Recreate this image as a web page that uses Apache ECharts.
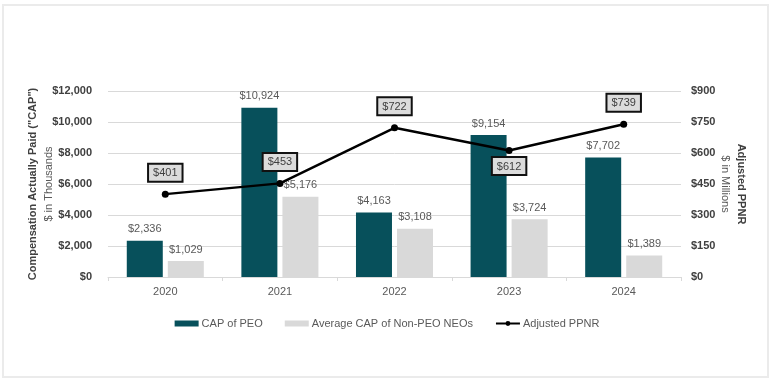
<!DOCTYPE html>
<html>
<head>
<meta charset="utf-8">
<script src="https://cdn.jsdelivr.net/npm/echarts@6/dist/echarts.min.js"></script>
<style>
html,body{margin:0;padding:0;background:#fff;}
#c{width:774px;height:382px;}
</style>
</head>
<body>
<div id="c"></div>
<script>
var categories = ['2020', '2021', '2022', '2023', '2024'];
var capPEO = [2336, 10924, 4163, 9154, 7702];
var capNEO = [1029, 5176, 3108, 3724, 1389];
var ppnr = [401, 453, 722, 612, 739];
var leftTicks = [0, 2000, 4000, 6000, 8000, 10000, 12000];
var rightTicks = [0, 150, 300, 450, 600, 750, 900];
var ppnrLabelPos = ['top', 'top', 'top', 'bottom', 'top'];

var FONT = "'Liberation Sans Narrow', 'Arial Narrow', 'Liberation Sans', Arial, sans-serif";
function money(v){ return '$' + Number(v).toLocaleString('en-US'); }

var chart = echarts.init(document.getElementById('c'), null, {renderer: 'canvas'});
var option = {
  animation: false,
  backgroundColor: '#ffffff',
  textStyle: {fontFamily: FONT},
  graphic: [{
    type: 'rect',
    shape: {x: 3, y: 5, width: 765, height: 372},
    style: {fill: 'none', stroke: '#ebebeb', lineWidth: 2},
    silent: true
  }],
  grid: {left: 108, right: 93, top: 91, bottom: 105, containLabel: false},
  legend: {
    bottom: 48,
    left: 'center',
    itemWidth: 24,
    itemHeight: 6,
    itemGap: 22,
    textStyle: {color: '#595959', fontSize: 11, fontFamily: FONT, padding: [0, 0, 0, -2]},
    data: [
      {name: 'CAP of PEO', icon: 'rect'},
      {name: 'Average CAP of Non-PEO NEOs', icon: 'rect'},
      {name: 'Adjusted PPNR'}
    ]
  },
  xAxis: {
    type: 'category',
    data: categories,
    axisLine: {lineStyle: {color: '#d9d9d9'}},
    axisTick: {show: true, length: 4, lineStyle: {color: '#d9d9d9'}},
    axisLabel: {color: '#595959', fontSize: 11, margin: 9, fontFamily: FONT}
  },
  yAxis: [{
    type: 'value',
    min: leftTicks[0],
    max: leftTicks[leftTicks.length - 1],
    interval: leftTicks[1] - leftTicks[0],
    position: 'left',
    name: '{b|Compensation Actually Paid ("CAP")}\n{n|$ in Thousands}',
    nameLocation: 'middle',
    nameRotate: 90,
    nameGap: 51,
    nameMoveOverlap: false,
    nameTextStyle: {
      rich: {
        b: {fontSize: 11, fontWeight: 'bold', color: '#404040', fontFamily: FONT, lineHeight: 16},
        n: {fontSize: 11, color: '#595959', fontFamily: FONT, lineHeight: 16}
      }
    },
    axisLine: {show: false},
    axisTick: {show: false},
    axisLabel: {color: '#404040', fontSize: 11, fontWeight: 'bold', margin: 16, fontFamily: FONT,
      formatter: function(v){ return money(v); }},
    splitLine: {lineStyle: {color: '#d9d9d9'}}
  }, {
    type: 'value',
    min: rightTicks[0],
    max: rightTicks[rightTicks.length - 1],
    interval: rightTicks[1] - rightTicks[0],
    position: 'right',
    name: '{b|Adjusted PPNR}\n{n|$ in Millions}',
    nameLocation: 'middle',
    nameRotate: -90,
    nameGap: 36,
    nameMoveOverlap: false,
    nameTextStyle: {
      rich: {
        b: {fontSize: 11, fontWeight: 'bold', color: '#404040', fontFamily: FONT, lineHeight: 16},
        n: {fontSize: 11, color: '#595959', fontFamily: FONT, lineHeight: 16}
      }
    },
    axisLine: {show: false},
    axisTick: {show: false},
    axisLabel: {color: '#404040', fontSize: 11, fontWeight: 'bold', margin: 10, fontFamily: FONT,
      formatter: function(v){ return money(v); }},
    splitLine: {show: false}
  }],
  series: [{
    name: 'CAP of PEO',
    type: 'bar',
    yAxisIndex: 0,
    data: capPEO,
    barWidth: 36,
    barGap: '14%',
    itemStyle: {color: '#07505b'},
    label: {show: true, position: 'top', distance: 6, color: '#595959', fontSize: 11, fontFamily: FONT,
      formatter: function(p){ return money(p.value); }},
    z: 2
  }, {
    name: 'Average CAP of Non-PEO NEOs',
    type: 'bar',
    yAxisIndex: 0,
    data: capNEO,
    barWidth: 36,
    itemStyle: {color: '#d9d9d9'},
    label: {show: true, position: 'top', distance: 6, color: '#595959', fontSize: 11, fontFamily: FONT,
      formatter: function(p){ return money(p.value); }},
    z: 2
  }, {
    name: 'Adjusted PPNR',
    type: 'line',
    yAxisIndex: 1,
    data: ppnr.map(function(v, i){
      return {value: v, label: {position: ppnrLabelPos[i], distance: ppnrLabelPos[i] === 'bottom' ? 4 : 10}};
    }),
    symbol: 'circle',
    symbolSize: 7,
    lineStyle: {color: '#000000', width: 2.5},
    itemStyle: {color: '#000000'},
    label: {
      show: true,
      color: '#404040',
      fontSize: 11,
      fontFamily: FONT,
      backgroundColor: '#dcdcdc',
      borderColor: '#111111',
      borderWidth: 2,
      padding: [3, 4, 2, 4],
      formatter: function(p){ return money(p.value); }
    },
    z: 5
  }]
};
chart.setOption(option);
</script>
</body>
</html>
